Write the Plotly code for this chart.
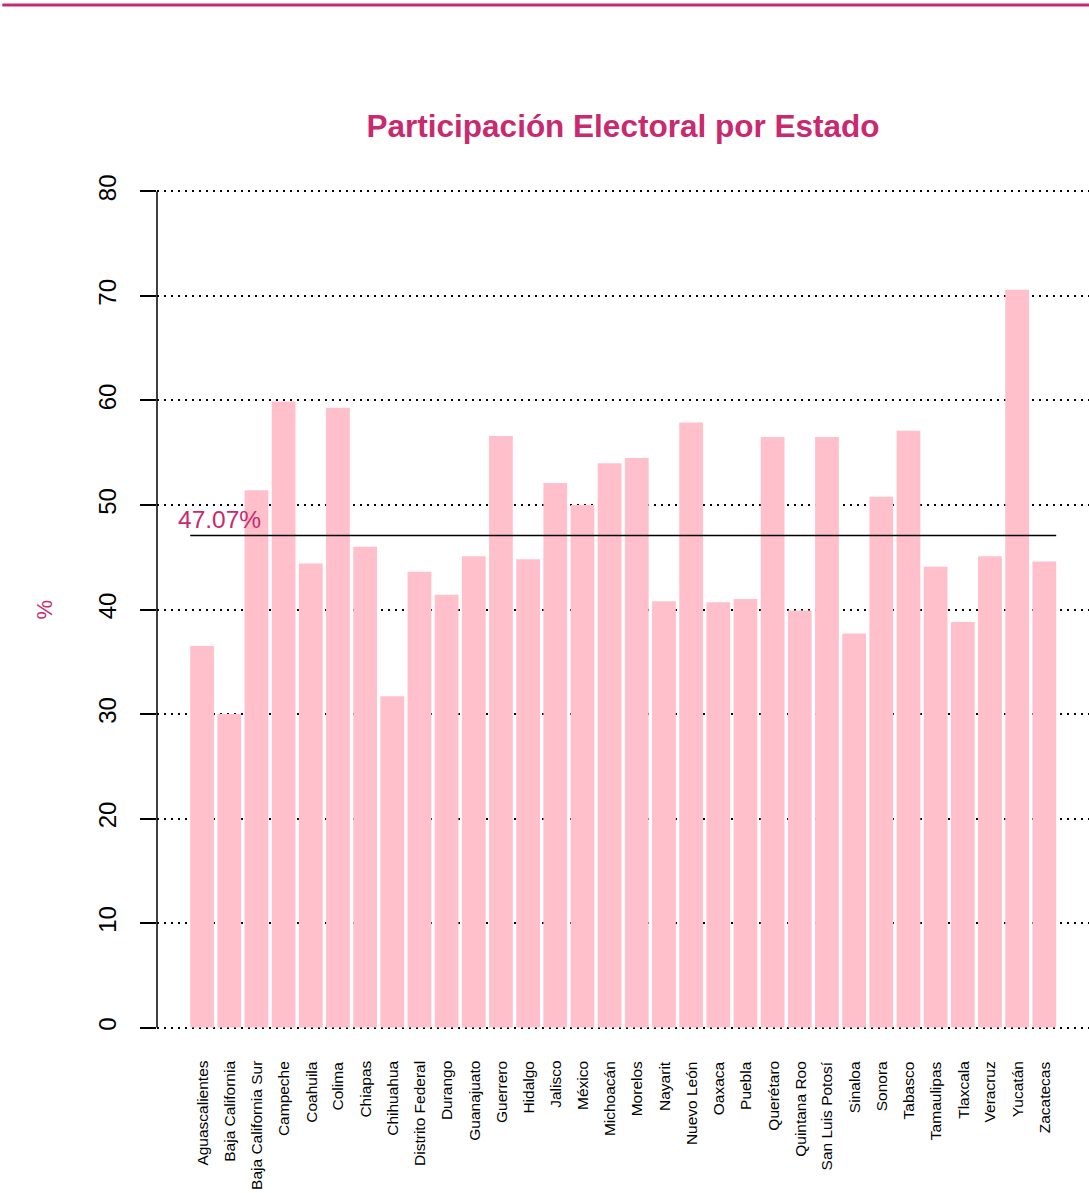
import plotly.graph_objects as go

estados = ["Aguascalientes", "Baja California", "Baja California Sur", "Campeche",
           "Coahuila", "Colima", "Chiapas", "Chihuahua", "Distrito Federal", "Durango",
           "Guanajuato", "Guerrero", "Hidalgo", "Jalisco", "México", "Michoacán",
           "Morelos", "Nayarit", "Nuevo León", "Oaxaca", "Puebla", "Querétaro",
           "Quintana Roo", "San Luis Potosí", "Sinaloa", "Sonora", "Tabasco",
           "Tamaulipas", "Tlaxcala", "Veracruz", "Yucatán", "Zacatecas"]
participacion = [36.5, 30.0, 51.4, 59.9, 44.4, 59.3, 46.0, 31.7, 43.6, 41.4,
                 45.1, 56.6, 44.8, 52.1, 50.0, 54.0, 54.5, 40.8, 57.9, 40.7,
                 41.0, 56.5, 39.9, 56.5, 37.7, 50.8, 57.1, 44.1, 38.8, 45.1,
                 70.6, 44.6]
promedio = 47.07
y_ticks = [0, 10, 20, 30, 40, 50, 60, 70, 80]

PINK_TXT = "#C9296F"
FONT = "Liberation Sans, Arial, Helvetica, sans-serif"

# R barplot style positions (width 1, space 0.2)
xpos = [0.7 + 1.2 * i for i in range(len(estados))]
bar_w = 1.05

fig = go.Figure()
fig.add_trace(go.Bar(
    x=xpos, y=participacion, width=bar_w,
    marker=dict(color="#FFC0CB", line=dict(width=0)),
    hoverinfo="skip", showlegend=False,
))

left_edge = xpos[0] - bar_w / 2
right_edge = xpos[-1] + bar_w / 2

fig.add_shape(type="line", xref="x", yref="y",
              x0=left_edge, x1=right_edge, y0=promedio, y1=promedio,
              line=dict(color="black", width=1.5))
# y-axis line (R style, only from first to last tick)
fig.add_shape(type="line", xref="paper", yref="y",
              x0=0, x1=0, y0=y_ticks[0], y1=y_ticks[-1],
              line=dict(color="black", width=1.5))
# top decorative rule
fig.add_shape(type="line", xref="paper", yref="paper",
              x0=-0.166, x1=1.0, y0=1.1694, y1=1.1694,
              line=dict(color=PINK_TXT, width=3))

# category labels (rotated, R las=2 style)
for xp, name in zip(xpos, estados):
    fig.add_annotation(x=xp, y=0, xref="x", yref="paper",
                       text=name, showarrow=False, textangle=-90,
                       xanchor="center", yanchor="top", yshift=2,
                       font=dict(family=FONT, size=15.5, color="black"))

fig.add_annotation(x=xpos[0] + 0.79, y=promedio, xref="x", yref="y",
                   text=f"{promedio:.2f}%", showarrow=False,
                   yshift=16, font=dict(family=FONT, size=24.5, color=PINK_TXT))
fig.add_annotation(x=-0.1202, y=0.5, xref="paper", yref="paper",
                   xanchor="center", yanchor="middle",
                   text="%", showarrow=False, textangle=-90,
                   font=dict(family=FONT, size=22, color=PINK_TXT))

fig.update_layout(
    width=1089, height=1193,
    margin=dict(l=157, r=0, t=158, b=132, autoexpand=False),
    paper_bgcolor="white", plot_bgcolor="white",
    title=dict(text="<b>Participación Electoral por Estado</b>",
               x=0.5, xref="paper", y=1 - 126 / 1193, yref="container",
               xanchor="center", yanchor="middle",
               font=dict(family=FONT, size=31.5, color=PINK_TXT)),
    font=dict(family=FONT, color="black"),
    xaxis=dict(range=[-1.292, 39.874], showticklabels=False,
               ticks="", showgrid=False, zeroline=False,
               showline=False, automargin=False),
    yaxis=dict(range=[-3.2, 83.2], tickvals=y_ticks, tickangle=-90,
               ticks="outside", ticklen=16, tickwidth=1.5, tickcolor="black",
               showgrid=True, gridcolor="black", griddash="1.5px,5.5px", gridwidth=1.5,
               zeroline=False, showline=False, ticklabelstandoff=14, automargin=False,
               tickfont=dict(size=24, color="black")),
)

fig.write_html("out.html", config={"displayModeBar": False},
               post_script="document.body.style.margin='0';document.body.style.padding='0';")
